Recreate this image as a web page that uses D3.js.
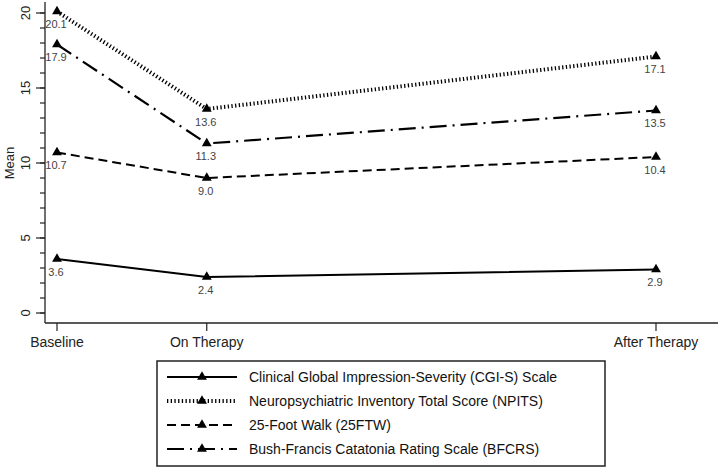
<!DOCTYPE html>
<html><head><meta charset="utf-8">
<script src="https://cdn.jsdelivr.net/npm/d3@7"></script>
<style>body{margin:0;background:#fff}svg{display:block;font-family:Arial,"Liberation Sans",sans-serif}</style>
</head><body><svg id="c" width="720" height="469"></svg>
<script>
const timeLabels = ["Baseline", "On Therapy", "After Therapy"];
const timeValues = [0, 3, 12];
const seriesNames = ["Clinical Global Impression-Severity (CGI-S) Scale","Neuropsychiatric Inventory Total Score (NPITS)","25-Foot Walk (25FTW)","Bush-Francis Catatonia Rating Scale (BFCRS)"];
const cgis = [3.6, 2.4, 2.9];
const npits = [20.1, 13.6, 17.1];
const ftw = [10.7, 9.0, 10.4];
const bfcrs = [17.9, 11.3, 13.5];
const yTicks = [0, 5, 10, 15, 20];

const styles = [
  {w:2, dash:null},
  {w:4, dash:"1.3,2.4"},
  {w:2, dash:"9,5"},
  {w:2.2, dash:"17,6,2,6"}
];
const allSeries = [cgis, npits, ftw, bfcrs];

const svg = d3.select("#c");
const x = d3.scaleLinear().domain([0, 12]).range([57, 656]);
const y = d3.scaleLinear().domain([0, 20]).range([313, 13]);
const axisX = 45, axisY = 323;

// y axis
const ya = svg.append("g").attr("transform", `translate(${axisX},0)`);
ya.append("line").attr("x1",0).attr("x2",0).attr("y1",2).attr("y2",axisY).attr("stroke","#222").attr("stroke-width",1.3);
ya.selectAll(".mn").data(d3.range(0,21)).enter().append("line")
  .attr("x1",-5).attr("x2",0).attr("y1",d=>y(d)).attr("y2",d=>y(d)).attr("stroke","#222").attr("stroke-width",1.2);
ya.selectAll(".mj").data(yTicks).enter().append("line")
  .attr("x1",-9).attr("x2",0).attr("y1",d=>y(d)).attr("y2",d=>y(d)).attr("stroke","#222").attr("stroke-width",1.2);
ya.selectAll(".tl").data(yTicks).enter().append("text")
  .attr("transform",d=>`translate(-15,${y(d)}) rotate(-90)`)
  .attr("text-anchor","middle").attr("font-size",13).attr("fill","#222").text(d=>d);
svg.append("text").attr("transform",`translate(14,${y(10)}) rotate(-90)`).attr("text-anchor","middle")
  .attr("font-size",13).attr("fill","#222").text("Mean");

// x axis
const xa = svg.append("g").attr("transform", `translate(0,${axisY})`);
xa.append("line").attr("x1",axisX).attr("x2",718).attr("y1",0).attr("y2",0).attr("stroke","#222").attr("stroke-width",1.3);
xa.selectAll(".xt").data(timeValues).enter().append("line")
  .attr("x1",d=>x(d)).attr("x2",d=>x(d)).attr("y1",0).attr("y2",8).attr("stroke","#222").attr("stroke-width",1.2);
xa.selectAll(".xl").data(timeValues).enter().append("text")
  .attr("x",d=>x(d)).attr("y",24).attr("text-anchor","middle").attr("font-size",14).attr("fill","#222")
  .text((d,i)=>timeLabels[i]);

const line = d3.line().x((d,i)=>x(timeValues[i])).y(d=>y(d));
const tri = d3.symbol().type(d3.symbolTriangle).size(42);

allSeries.forEach((s,k)=>{
  const st = styles[k];
  svg.append("path").datum(s).attr("d",line).attr("fill","none").attr("stroke","#000")
    .attr("stroke-width",st.w).attr("stroke-dasharray",st.dash);
});
allSeries.forEach((s,k)=>{
  svg.selectAll(".m"+k).data(s).enter().append("path").attr("d",tri)
    .attr("transform",(d,i)=>`translate(${x(timeValues[i])},${y(d)})`).attr("fill","#000");
  svg.selectAll(".l"+k).data(s).enter().append("text")
    .attr("x",(d,i)=>x(timeValues[i])-1).attr("y",d=>y(d)+16.5).attr("text-anchor","middle")
    .attr("font-size",11).attr("fill","#444").text(d=>d.toFixed(1));
});

// legend
const lg = svg.append("g");
lg.append("rect").attr("x",157).attr("y",361).attr("width",448).attr("height",105)
  .attr("fill","none").attr("stroke","#222").attr("stroke-width",1.5);
seriesNames.forEach((n,k)=>{
  const cy = 377 + k*24;
  const st = styles[k];
  lg.append("line").attr("x1",167).attr("x2",237).attr("y1",cy).attr("y2",cy).attr("stroke","#000")
    .attr("stroke-width",st.w).attr("stroke-dasharray",st.dash);
  lg.append("path").attr("d",tri).attr("transform",`translate(202,${cy})`).attr("fill","#000");
  lg.append("text").attr("x",249).attr("y",cy+5).attr("font-size",14).attr("fill","#111").text(n);
});
</script></body></html>
